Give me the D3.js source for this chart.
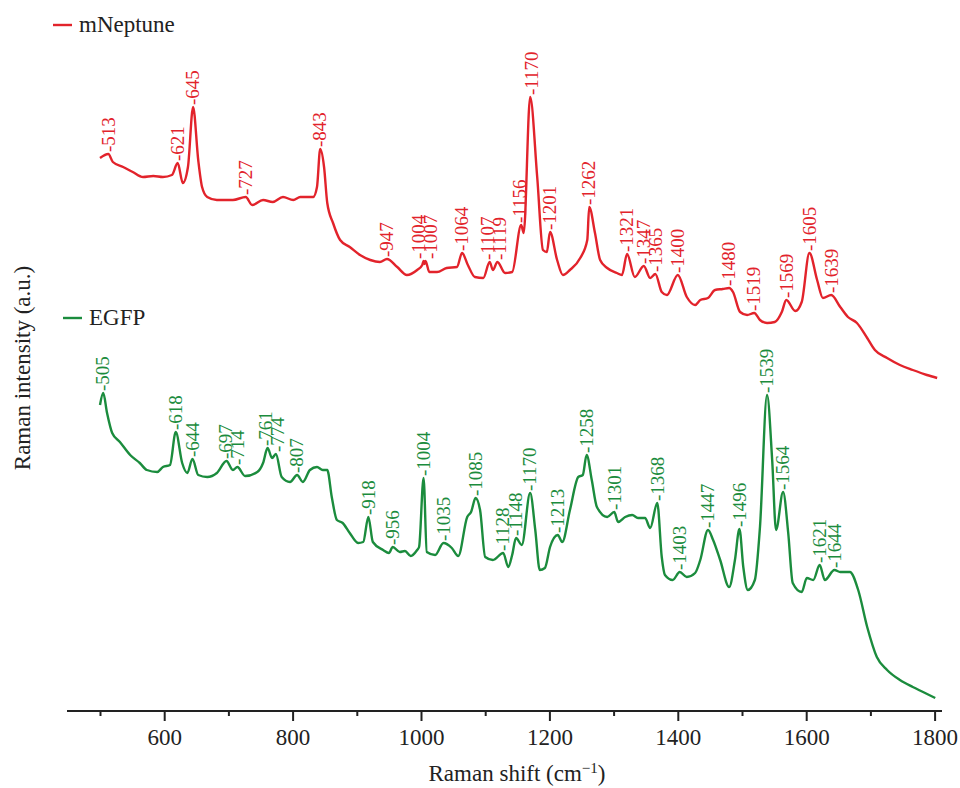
<!DOCTYPE html>
<html>
<head>
<meta charset="utf-8">
<script src="https://cdn.jsdelivr.net/npm/d3@7"></script>
<style>
  html, body { margin: 0; padding: 0; background: #fff; }
  svg text { font-family: "Liberation Serif", "DejaVu Serif", serif; }
</style>
</head>
<body>
<div id="chart_div"></div>
<script>
/*****************************************************
 * Description: Raman spectra of mNeptune and EGFP   *
 *****************************************************/

/********
 * Data *
 ********/

// mNeptune spectrum (Raman shift in cm-1, intensity in a.u.)
var neptuneShift = [500, 513, 520, 536, 551, 567, 583, 598, 612, 621, 629, 637, 645, 653, 659, 667, 682, 707, 727, 737,
  754, 769, 785, 801, 812, 832, 838, 843, 849, 854, 863, 874, 889, 905, 921, 936, 947, 963, 978, 994,
  1002, 1004, 1005.5, 1007, 1013, 1025, 1040, 1056, 1064, 1073, 1084, 1097, 1107, 1112, 1119, 1131, 1142, 1156, 1160, 1170,
  1181, 1190, 1196, 1201, 1212, 1221, 1232, 1248, 1259, 1262, 1271, 1279, 1290, 1305, 1313, 1321, 1333, 1347, 1357, 1365,
  1375, 1383, 1400, 1414, 1427, 1435, 1447, 1458, 1470, 1480, 1486, 1497, 1508, 1519, 1528, 1539, 1551, 1562, 1569, 1583,
  1593, 1605, 1617, 1626, 1639, 1653, 1665, 1679, 1695, 1707, 1726, 1746, 1766, 1788, 1804];
var neptuneIntensity = [562, 566, 558, 553, 548, 543, 544, 543, 545, 557, 537, 553, 613, 560, 533, 523, 520, 520, 523, 515,
  520, 518, 523, 520, 523, 523, 533, 571, 553, 517, 497, 480, 473, 465, 460, 458, 461, 453, 445, 450,
  455, 459, 456, 459, 448, 448, 452, 453, 467, 455, 443, 442, 458, 450, 458, 447, 448, 495, 487, 623,
  543, 470, 468, 488, 460, 445, 450, 462, 480, 513, 487, 460, 452, 447, 445, 466, 443, 454, 442, 446,
  428, 425, 445, 423, 415, 420, 422, 430, 431, 432, 428, 408, 405, 407, 400, 397, 398, 408, 420, 409,
  418, 467, 440, 422, 425, 413, 403, 397, 382, 370, 362, 355, 350, 345, 342];

// EGFP spectrum
var egfpShift = [500, 505, 511, 519, 531, 547, 562, 573, 589, 598, 609, 618, 628, 636, 644, 653, 667, 682, 697, 707,
  714, 726, 745, 754, 761, 768, 774, 783, 796, 807, 816, 827, 838, 847, 854, 861, 869, 878, 889, 902,
  910, 918, 925, 941, 950, 956, 967, 975, 984, 994, 997, 1004, 1009, 1022, 1035, 1048, 1058, 1072, 1078, 1085,
  1092, 1100, 1112, 1128, 1136, 1142, 1148, 1157, 1170, 1178, 1185, 1193, 1201, 1213, 1220, 1232, 1245, 1252, 1258, 1266,
  1274, 1290, 1301, 1307, 1318, 1329, 1338, 1349, 1357, 1368, 1375, 1380, 1392, 1403, 1414, 1427, 1435, 1447, 1455, 1466,
  1480, 1489, 1496, 1502, 1509, 1520, 1528, 1539, 1547, 1553, 1564, 1572, 1579, 1593, 1601, 1611, 1621, 1629, 1644, 1653,
  1668, 1681, 1695, 1710, 1726, 1746, 1766, 1782, 1801];
var egfpIntensity = [315, 327, 307, 287, 278, 265, 257, 250, 248, 253, 255, 288, 257, 247, 261, 245, 243, 247, 259, 250,
  253, 244, 248, 257, 272, 262, 266, 243, 238, 245, 238, 250, 253, 250, 250, 223, 200, 197, 187, 177,
  178, 203, 178, 170, 167, 173, 168, 169, 164, 170, 173, 242, 168, 165, 177, 172, 164, 203, 208, 222,
  210, 163, 160, 167, 153, 165, 182, 175, 227, 190, 150, 152, 173, 185, 178, 210, 243, 245, 265, 240,
  213, 203, 208, 198, 203, 205, 202, 202, 192, 217, 163, 145, 140, 148, 143, 147, 160, 190, 180, 160,
  133, 160, 191, 153, 130, 140, 193, 325, 260, 190, 228, 187, 137, 128, 142, 140, 155, 140, 150, 148,
  148, 130, 93, 63, 50, 40, 33, 28, 22];

// labelled peaks
var neptunePeaks = [513, 621, 645, 727, 843, 947, 1004, 1007, 1064, 1107, 1119, 1156, 1170, 1201, 1262, 1321, 1347, 1365,
  1400, 1480, 1519, 1569, 1605, 1639];
var egfpPeaks = [505, 618, 644, 697, 714, 761, 774, 807, 918, 956, 1004, 1035, 1085, 1128, 1148, 1170, 1213, 1258, 1301,
  1368, 1403, 1447, 1496, 1539, 1564, 1621, 1644];

// x axis ticks
var majorTicks = [600, 800, 1000, 1200, 1400, 1600, 1800];
var minorTicks = [500, 700, 900, 1100, 1300, 1500, 1700];

var gvRed = '#e2232b';
var gvGreen = '#1b8c3d';

/*********
 * Build *
 *********/

var gvWidth = 960;
var gvHeight = 788;
var gvAxisY = 711;
var gvLabelGap = 12;

var svg = d3.select('#chart_div')
  .append('svg')
  .attr('width', gvWidth)
  .attr('height', gvHeight);

var x = d3.scaleLinear()
  .domain([500, 1800])
  .range([100, 934.6]);

var y = d3.scaleLinear()
  .domain([0, 720])
  .range([720, 0]);

/*
 * Push crowded peak labels apart so their texts don't sit on each other
 */
function spreadLabels(pvXs) {
  var lvXs = pvXs.slice();
  for (var pass = 0; pass < 20; pass++) {
    for (var i = 1; i < lvXs.length; i++) {
      var lvDiff = lvXs[i] - lvXs[i - 1];
      if (lvDiff < gvLabelGap) {
        var lvShift = (gvLabelGap - lvDiff) / 2;
        lvXs[i - 1] -= lvShift;
        lvXs[i] += lvShift;
      }
    }
  }
  return lvXs;
}

function drawSpectrum(pvShift, pvIntensity, pvPeaks, pvColour) {

  var lvPoints = pvShift.map(function(d, i) { return [d, pvIntensity[i]]; });

  var line = d3.line()
    .x(function(d) { return x(d[0]); })
    .y(function(d) { return y(d[1]); })
    .curve(d3.curveMonotoneX);

  svg.append('path')
    .datum(lvPoints)
    .attr('fill', 'none')
    .attr('stroke', pvColour)
    .attr('stroke-width', 2.4)
    .attr('stroke-linejoin', 'round')
    .attr('d', line);

  // peak labels sit just above the local maximum
  var lvLabelXs = spreadLabels(pvPeaks.map(function(p) { return x(p); }));

  pvPeaks.forEach(function(p, i) {
    var lvNear = lvPoints.filter(function(d) { return Math.abs(d[0] - p) <= 4; });
    var lvTop = d3.max(lvNear, function(d) { return d[1]; });
    svg.append('text')
      .attr('transform', 'translate(' + lvLabelXs[i] + ',' + (y(lvTop) - 2) + ') rotate(-90)')
      .attr('dy', '0.33em')
      .attr('fill', pvColour)
      .style('font-size', '19px')
      .text('-' + p);
  });
}

drawSpectrum(neptuneShift, neptuneIntensity, neptunePeaks, gvRed);
drawSpectrum(egfpShift, egfpIntensity, egfpPeaks, gvGreen);

/********
 * Axes *
 ********/

var gAxis = svg.append('g')
  .attr('transform', 'translate(0,' + gvAxisY + ')');

gAxis.append('g')
  .call(d3.axisBottom(x).tickValues(majorTicks).tickFormat(d3.format('d')).tickSize(10).tickPadding(8).tickSizeOuter(0))
  .call(function(g) { g.select('.domain').remove(); })
  .call(function(g) {
    g.selectAll('line').attr('stroke', '#222').attr('stroke-width', 2);
    g.selectAll('text').attr('fill', '#222').style('font-size', '23px').style('font-family', '"Liberation Serif", serif');
  });

gAxis.append('g')
  .call(d3.axisBottom(x).tickValues(minorTicks).tickSize(5).tickFormat('').tickSizeOuter(0))
  .call(function(g) { g.select('.domain').remove(); })
  .call(function(g) { g.selectAll('line').attr('stroke', '#222').attr('stroke-width', 2); });

gAxis.append('line')
  .attr('x1', 67)
  .attr('x2', 942)
  .attr('stroke', '#222')
  .attr('stroke-width', 2.2);

var xTitle = svg.append('text')
  .attr('x', 517)
  .attr('y', 781)
  .attr('text-anchor', 'middle')
  .attr('fill', '#222')
  .style('font-size', '23px');
xTitle.append('tspan').text('Raman shift (cm');
xTitle.append('tspan').attr('dy', -8).style('font-size', '15px').text('\u22121');
xTitle.append('tspan').attr('dy', 8).text(')');

svg.append('text')
  .attr('transform', 'translate(30,368) rotate(-90)')
  .attr('text-anchor', 'middle')
  .attr('fill', '#222')
  .style('font-size', '23px')
  .text('Raman intensity (a.u.)');

/**********
 * Legend *
 **********/

var legendItems = [
  { name: 'mNeptune', colour: gvRed, x: 53, y: 25 },
  { name: 'EGFP', colour: gvGreen, x: 63, y: 318 }
];

legendItems.forEach(function(d) {
  svg.append('line')
    .attr('x1', d.x).attr('x2', d.x + 19)
    .attr('y1', d.y).attr('y2', d.y)
    .attr('stroke', d.colour)
    .attr('stroke-width', 2.4);
  svg.append('text')
    .attr('x', d.x + 26)
    .attr('y', d.y + 7)
    .attr('fill', '#222')
    .style('font-size', '23px')
    .text(d.name);
});
</script>
</body>
</html>
